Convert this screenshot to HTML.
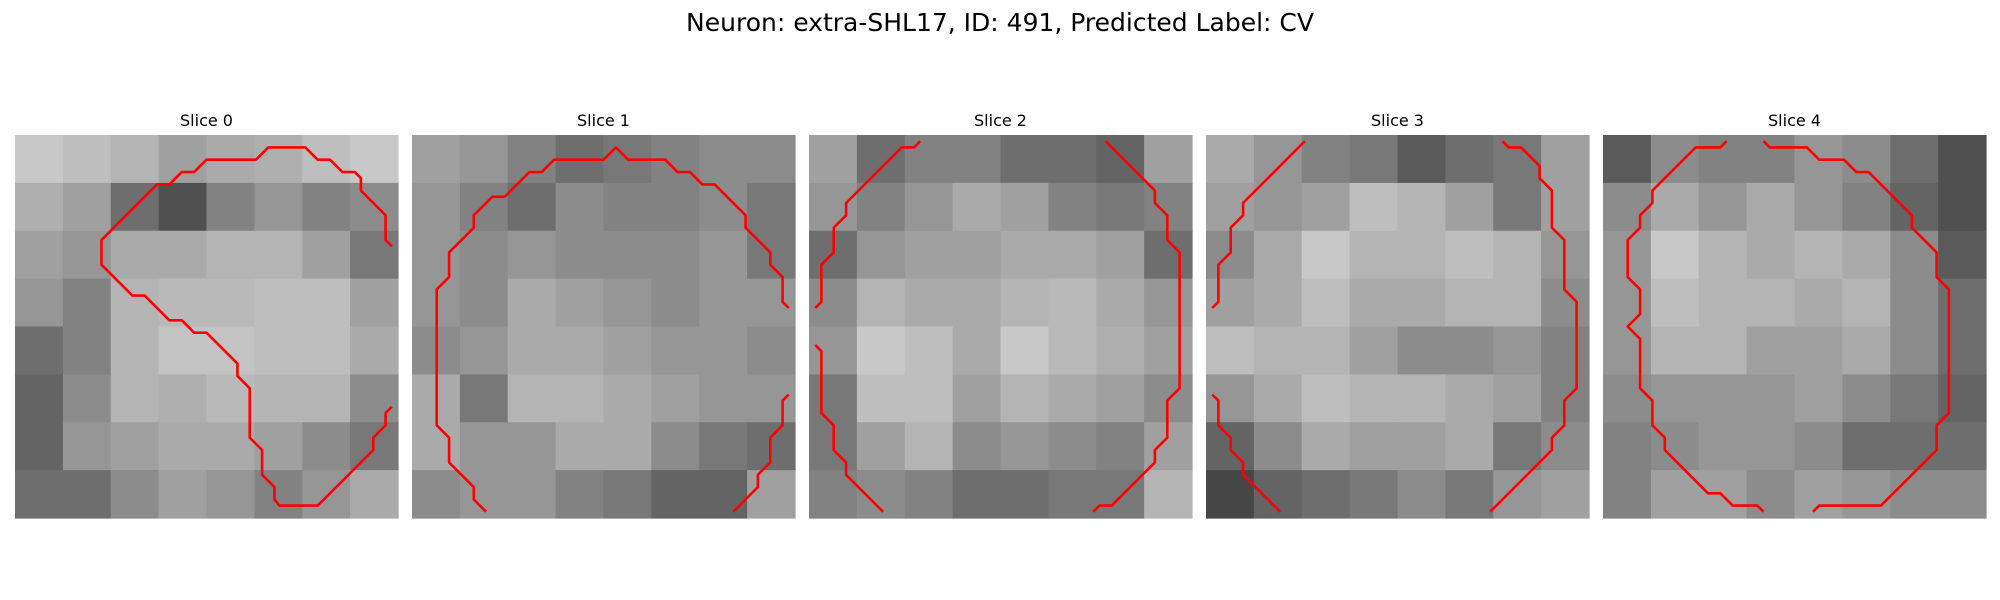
<!DOCTYPE html>
<html><head><meta charset="utf-8"><style>
html,body{margin:0;padding:0;background:#fff;}
svg{display:block;font-family:"DejaVu Sans","Liberation Sans",sans-serif;}
</style></head><body>
<svg id="fig" width="2000" height="600" viewBox="0 0 2000 600" xmlns="http://www.w3.org/2000/svg">
<rect x="0" y="0" width="2000" height="600" fill="#fff"/>
<text x="1000" y="31" text-anchor="middle" font-size="25" fill="#000">Neuron: extra-SHL17, ID: 491, Predicted Label: CV</text>
</svg>
<script>
// panel titles
const sliceTitles = ["Slice 0","Slice 1","Slice 2","Slice 3","Slice 4"];
// coarse brightness estimates (8x8 per slice, 0-255)
const slice0 = [
[200,190,180,160,170,175,190,200],[175,160,110,80,130,150,130,140],[160,150,170,170,180,180,160,120],[150,130,180,185,185,190,190,160],
[110,130,180,195,195,190,190,170],[100,140,180,175,185,180,180,140],[100,150,160,170,170,160,140,120],[110,110,140,160,150,130,150,170]];
const slice1 = [
[160,150,130,110,120,130,140,140],[150,130,110,140,130,130,140,120],[150,140,150,140,140,140,150,120],[150,140,170,160,150,140,150,150],
[140,150,170,170,160,150,150,140],[170,120,180,180,170,160,150,150],[170,150,150,170,170,140,120,110],[140,150,150,130,120,100,100,160]];
const slice2 = [
[160,110,130,130,110,110,100,160],[150,130,150,170,160,130,120,130],[110,150,160,160,170,170,160,110],[140,180,170,170,180,185,170,150],
[150,200,190,170,200,185,175,160],[120,190,190,160,180,170,160,140],[120,160,180,140,150,140,130,160],[130,140,130,110,110,120,120,180]];
const slice3 = [
[170,150,130,120,90,110,120,160],[160,150,160,190,180,160,120,160],[140,170,200,180,180,190,180,150],[160,170,190,170,170,180,180,140],
[190,180,180,160,140,140,150,130],[150,170,190,180,180,170,160,130],[100,140,170,160,160,170,120,140],[70,100,110,120,140,120,150,160]];
const slice4 = [
[90,140,130,130,150,140,110,80],[140,170,150,170,150,130,100,80],[150,200,180,170,180,170,140,90],[150,190,180,180,170,180,140,110],
[150,180,180,160,160,170,140,110],[140,150,150,150,160,140,120,100],[130,140,150,150,140,110,110,110],[130,160,160,140,160,150,140,140]];
// contour segments in image cell coordinates (31x31 grid)
const contour0 = [[[30.5,22],[30,22.5],[30,23.5],[29,24.5],[29,25.5],[24.5,30],[21.4,30],[21,29.5],[21,28.5],[20,27.5],[20,25.5],[19,24.5],[19,20.5],[18,19.5],[18,18.5],[15.5,16],[14.5,16],[13.5,15],[12.5,15],[10.5,13],[9.5,13],[7,10.5],[7,8.5],[11.5,4],[12.5,4],[13.5,3],[14.5,3],[15.5,2],[19.5,2],[20.5,1],[23.5,1],[24.5,2],[25.5,2],[26.5,3],[27.5,3],[28,3.5],[28,4.5],[30,6.5],[30,8.5],[30.5,9]]];
const contour1 = [
[[6,30.5],[5,29.5],[5,28.5],[3,26.5],[3,24.5],[2,23.5],[2,12.5],[3,11.5],[3,9.5],[5,7.5],[5,6.5],[6.5,5],[7.5,5],[9.5,3],[10.5,3],[11.5,2],[15.5,2],[16.5,1],[17.5,2],[20.5,2],[21.5,3],[22.5,3],[23.5,4],[24.5,4],[27,6.5],[27,7.5],[29,9.5],[29,10.5],[30,11.5],[30,13.5],[30.5,14]],
[[30.5,21],[30,21.5],[30,23.5],[29,24.5],[29,26.5],[28,27.5],[28,28.5],[26,30.5]]];
const contour2 = [
[[9,0.5],[8.5,1],[7.5,1],[3,5.5],[3,6.5],[2,7.5],[2,9.5],[1,10.5],[1,13.5],[0.5,14]],
[[0.5,17],[1,17.5],[1,22.5],[2,23.5],[2,25.5],[3,26.5],[3,27.5],[6,30.5]],
[[24,0.5],[28,4.5],[28,5.5],[29,6.5],[29,8.5],[30,9.5],[30,20.5],[29,21.5],[29,24.5],[28,25.5],[28,26.5],[24.5,30],[23.5,30],[23,30.5]]];
const contour3 = [
[[8,0.5],[3,5.5],[3,6.5],[2,7.5],[2,9.5],[1,10.5],[1,13.5],[0.5,14]],
[[0.5,21],[1,21.5],[1,23.5],[2,24.5],[2,25.5],[3,26.5],[3,27.5],[6,30.5]],
[[24,0.5],[24.5,1],[25.5,1],[27,2.5],[27,3.5],[28,4.5],[28,7.5],[29,8.5],[29,12.5],[30,13.5],[30,20.5],[29,21.5],[29,23.5],[28,24.5],[28,25.5],[23,30.5]]];
const contour4 = [
[[10,0.5],[9.5,1],[7.5,1],[4,4.5],[4,5.5],[3,6.5],[3,7.5],[2,8.5],[2,11.5],[3,12.5],[3,14.5],[2,15.5],[3,16.5],[3,20.5],[4,21.5],[4,23.5],[5,24.5],[5,25.5],[8.5,29],[9.5,29],[10.5,30],[12.5,30],[13,30.5]],
[[13,0.5],[13.5,1],[16.5,1],[17.5,2],[19.5,2],[20.5,3],[21.5,3],[25,6.5],[25,7.5],[27,9.5],[27,11.5],[28,12.5],[28,22.5],[27,23.5],[27,25.5],[22.5,30],[17.5,30],[17,30.5]]];

const slices = [slice0,slice1,slice2,slice3,slice4];
const contours = [contour0,contour1,contour2,contour3,contour4];
const NS = "http://www.w3.org/2000/svg";
const svg = document.getElementById('fig');
const panelLeft = [15,412,809,1206,1603];
const panelTop = 135, panelSize = 383, gridN = 31;

slices.forEach((grid, p) => {
  const g = document.createElementNS(NS,'g');
  
  
  svg.appendChild(g);
  const x0 = panelLeft[p];
  const sx = v => x0 + v * panelSize / gridN;
  const sy = v => panelTop + v * panelSize / gridN;
  const rows = grid.length, cols = grid[0].length;
  const bw = panelSize / cols, bh = panelSize / rows;
  grid.forEach((row, r) => row.forEach((val, c) => {
    const rect = document.createElementNS(NS,'rect');
    
    
    rect.setAttribute('x', (x0 + c*bw).toFixed(2));
    rect.setAttribute('y', (panelTop + r*bh).toFixed(2));
    rect.setAttribute('width', (bw+0.6).toFixed(2));
    rect.setAttribute('height', (bh+0.6).toFixed(2));
    rect.setAttribute('fill', `rgb(${val},${val},${val})`);
    g.appendChild(rect);
  }));
  const t = document.createElementNS(NS,'text');
  
  
  t.setAttribute('x', x0 + panelSize/2);
  t.setAttribute('y', 126);
  t.setAttribute('text-anchor', 'middle');
  t.setAttribute('font-size', '16');
  t.textContent = sliceTitles[p];
  g.appendChild(t);
  contours[p].forEach(seg => {
    const pl = document.createElementNS(NS,'polyline');
    
    
    pl.setAttribute('points', seg.map(pt => sx(pt[0]).toFixed(1)+','+sy(pt[1]).toFixed(1)).join(' '));
    pl.setAttribute('fill', 'none');
    pl.setAttribute('stroke', '#ff0000');
    pl.setAttribute('stroke-width', '2.6');
    pl.setAttribute('stroke-linejoin', 'round');
    g.appendChild(pl);
  });
});
</script>
</body></html>
